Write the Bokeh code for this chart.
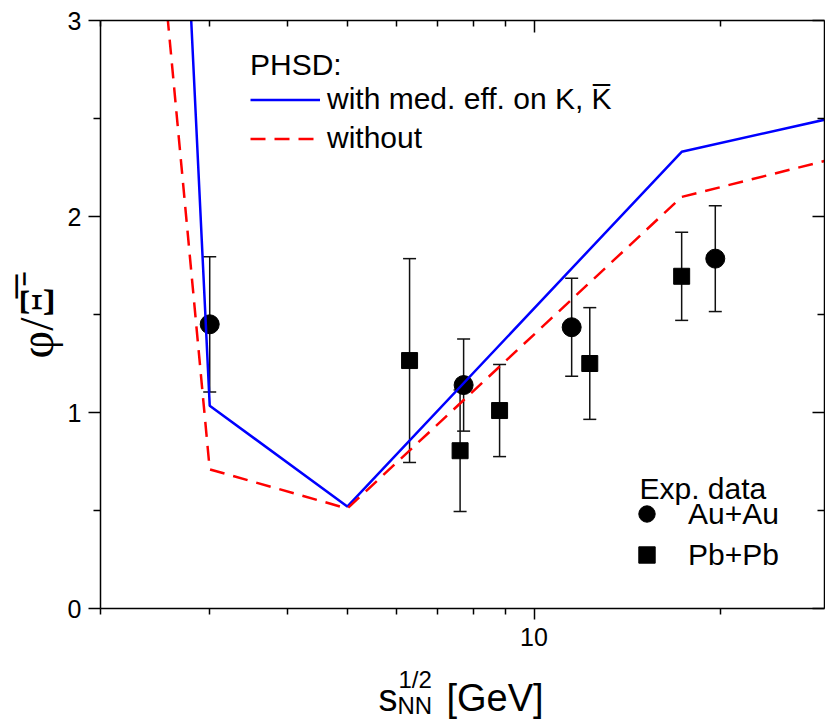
import math
from bokeh.plotting import figure
from bokeh.layouts import column
from bokeh.models import (ColumnDataSource, Whisker, TeeHead, FixedTicker, LogAxis, Title,
                          LinearAxis, Label, Legend, LegendItem, Range1d, PrintfTickFormatter)
from bokeh.embed import file_html
from bokeh.resources import INLINE

# ---- data ----
with_x = [2.7, 3.0, 5.0, 17.3, 30.0]
with_y = [4.05, 1.035, 0.52, 2.33, 2.50]
without_x = [2.4, 3.0, 5.0, 17.3, 30.0]
without_y = [4.0, 0.71, 0.51, 2.10, 2.29]

auau_x = [3.0, 7.7, 11.5, 19.6]
auau_y = [1.45, 1.14, 1.435, 1.785]
auau_err = [0.345, 0.235, 0.25, 0.27]

pbpb_x = [6.3, 7.6, 8.8, 12.3, 17.3]
pbpb_y = [1.265, 0.805, 1.01, 1.25, 1.695]
pbpb_err = [0.52, 0.31, 0.235, 0.285, 0.225]

x_major = [10]
x_minor = [2, 3, 4, 5, 6, 7, 8, 9, 20, 30]
y_major = [0, 1, 2, 3]
y_minor = [0.5, 1.5, 2.5]

FONT = "Liberation Sans"
FL, FR, FB = 100, 824, 608   # frame left / right / bottom in canvas px
PH = 660                     # height of the main plot; the x-axis title strip sits below it

p = figure(width=825, height=PH, x_axis_type="log",
           x_range=Range1d(2, 29.4), y_range=Range1d(0, 3),
           output_backend="svg", toolbar_location=None,
           min_border_left=FL, min_border_right=825 - FR, min_border_top=20,
           min_border_bottom=PH - FB)
p.xgrid.visible = False
p.ygrid.visible = False
p.outline_line_color = None
p.background_fill_color = "white"
p.border_fill_color = "white"

xt = FixedTicker(ticks=x_major, minor_ticks=x_minor)
yt = FixedTicker(ticks=y_major, minor_ticks=y_minor)

xa = p.xaxis[0]
xa.ticker = xt
xa.formatter = PrintfTickFormatter(format="%d")
ya = p.yaxis[0]
ya.ticker = yt

for ax in (xa, ya):
    ax.axis_line_width = 1.5
    ax.major_tick_line_width = 1.5
    ax.minor_tick_line_width = 1.5
    ax.major_tick_in = 0
    ax.minor_tick_in = 0
    ax.major_label_text_font = FONT
    ax.major_label_text_font_size = "25px"
    ax.major_label_text_color = "black"
    ax.axis_line_color = "black"
    ax.major_tick_line_color = "black"
    ax.minor_tick_line_color = "black"
xa.major_tick_out = 11
xa.minor_tick_out = 6
ya.major_tick_out = 12
ya.minor_tick_out = 7
xa.major_label_standoff = 8
ya.major_label_standoff = 7

top = LogAxis(ticker=xt, major_tick_in=12, major_tick_out=0, minor_tick_in=6, minor_tick_out=0,
              major_label_text_font_size="1px", major_label_text_alpha=0, major_label_standoff=0,
              axis_line_width=1.5, major_tick_line_width=1.5, minor_tick_line_width=1.5)
right = LinearAxis(ticker=yt, major_tick_in=12, major_tick_out=0, minor_tick_in=7, minor_tick_out=0,
                   major_label_text_font_size="1px", major_label_text_alpha=0, major_label_standoff=0,
                   axis_line_width=1.5, major_tick_line_width=1.5, minor_tick_line_width=1.5)
p.add_layout(top, "above")
p.add_layout(right, "right")

# ---- experimental data ----
src_au = ColumnDataSource(dict(x=auau_x, y=auau_y,
                               lo=[v - e for v, e in zip(auau_y, auau_err)],
                               hi=[v + e for v, e in zip(auau_y, auau_err)]))
src_pb = ColumnDataSource(dict(x=pbpb_x, y=pbpb_y,
                               lo=[v - e for v, e in zip(pbpb_y, pbpb_err)],
                               hi=[v + e for v, e in zip(pbpb_y, pbpb_err)]))
for s in (src_au, src_pb):
    w = Whisker(base="x", lower="lo", upper="hi", source=s, dimension="height",
                line_color="#111111", line_width=1.5,
                upper_head=TeeHead(size=13, line_width=1.5, line_color="#111111"),
                lower_head=TeeHead(size=13, line_width=1.5, line_color="#111111"))
    p.add_layout(w)

r_au = p.scatter("x", "y", source=src_au, marker="circle", size=19, color="black")
r_pb = p.scatter("x", "y", source=src_pb, marker="square", size=16, color="black")

# ---- PHSD curves ----
r_with = p.line(with_x, with_y, line_color="#0000FF", line_width=2.5)
r_without = p.line(without_x, without_y, line_color="#FF0000", line_width=2.5, line_dash="15 9")

leg1 = Legend(items=[LegendItem(label="with med. eff. on K, K\u0305", renderers=[r_with]),
                     LegendItem(label="without", renderers=[r_without])],
              title="PHSD:", location=(150, 453),
              title_text_font=FONT, title_text_font_size="30px", title_text_font_style="normal",
              title_text_color="black",
              label_text_font=FONT, label_text_font_size="30px", label_text_color="black",
              glyph_width=70, glyph_height=33, label_height=33, label_standoff=7,
              spacing=5, padding=0, margin=0, title_standoff=0,
              border_line_color=None, background_fill_alpha=0)
leg2 = Legend(items=[LegendItem(label="Au+Au", renderers=[r_au]),
                     LegendItem(label="Pb+Pb", renderers=[r_pb])],
              location=(526, 33),
              label_text_font=FONT, label_text_font_size="30px", label_text_color="black",
              glyph_width=41, glyph_height=41, label_height=33, label_standoff=21,
              spacing=0, padding=0, margin=0,
              border_line_color=None, background_fill_alpha=0)
p.add_layout(leg1)
p.add_layout(leg2)

p.add_layout(Label(x=639 - FL, y=FB - 488, x_units="screen", y_units="screen", text="Exp. data",
                   text_font=FONT, text_font_size="30px", text_align="left",
                   text_baseline="alphabetic", text_color="black"))

# ---- y axis title ----
p.add_layout(Title(text="\u03c6/\u039e\u0305\u207b", align="center", text_font="Liberation Serif",
                   text_font_size="48px", text_font_style="normal", standoff=4,
                   text_color="black"), "left")

# ---- x axis title strip (text only, below the main plot) ----
SH = 722 - PH
YCORR = 11   # measured vertical offset of the strip in the page
q = figure(width=825, height=SH, x_range=Range1d(FL, FR), y_range=Range1d(SH, 0),
           output_backend="svg", toolbar_location=None,
           x_axis_location=None, y_axis_location=None,
           min_border_left=FL, min_border_right=825 - FR, min_border_top=0, min_border_bottom=0)
q.xgrid.visible = False
q.ygrid.visible = False
q.outline_line_color = None
q.background_fill_color = "white"
q.border_fill_color = "white"


def qlab(text, cx, cy, size):
    q.add_layout(Label(x=cx, y=cy - PH - YCORR, text=text, text_font=FONT, text_font_size=size,
                       text_align="left", text_baseline="alphabetic", text_color="black"))


qlab("s", 378, 708, "38px")
qlab("1/2", 398, 690, "24px")
qlab("NN", 397, 716, "24px")
qlab("[GeV]", 446, 708, "38px")

layout = column(p, q, spacing=0)
open("out.html", "w").write(file_html(layout, INLINE))
